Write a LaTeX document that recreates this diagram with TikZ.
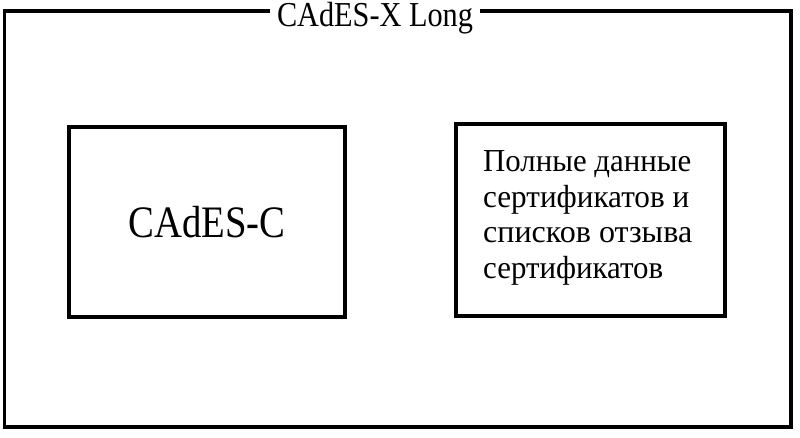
\documentclass[tikz,border=0pt]{standalone}
\usepackage{graphicx}
\usepackage{fontspec}
\setmainfont{Liberation Serif}
\newcommand{\fitw}[2]{\resizebox{#1}{\height}{#2}}
\begin{document}
\begin{tikzpicture}[x=1pt,y=1pt,
  box/.style={draw=black, line width=3.8pt, rectangle, inner sep=0pt, outer sep=0pt},
  txtline/.style={font=\fontsize{32}{36}\selectfont, anchor=base west, inner sep=0pt}]
\fill[white] (0,0) rectangle (800,438);
\useasboundingbox (0,0) rectangle (800,438);
% outer frame
\node[box, minimum width=786.5pt, minimum height=415.7pt] (outer) at (397.75,219.15) {};
\node[fill=white, inner xsep=6.5pt, inner ysep=2pt, anchor=base,
      font=\fontsize{35}{40}\selectfont] (title) at (375,411) {\fitw{196pt}{CAdES-X Long}};
% left box
\node[box, minimum width=275.4pt, minimum height=189.7pt,
      font=\fontsize{45}{50}\selectfont] (cadesc) at (207,216.15) {\fitw{157pt}{CAdES-C}};
% right box
\node[box, minimum width=269.3pt, minimum height=191.7pt] (data) at (590.65,217.85) {};
\node[txtline] (l1) at (483,266.3) {\fitw{208pt}{Полные данные}};
\node[txtline] (l2) at (483,230.5) {\fitw{206pt}{сертификатов и}};
\node[txtline] (l3) at (483,195.0) {\fitw{209pt}{списков отзыва}};
\node[txtline] (l4) at (483,159.5) {\fitw{180pt}{сертификатов}};
\end{tikzpicture}
\end{document}
